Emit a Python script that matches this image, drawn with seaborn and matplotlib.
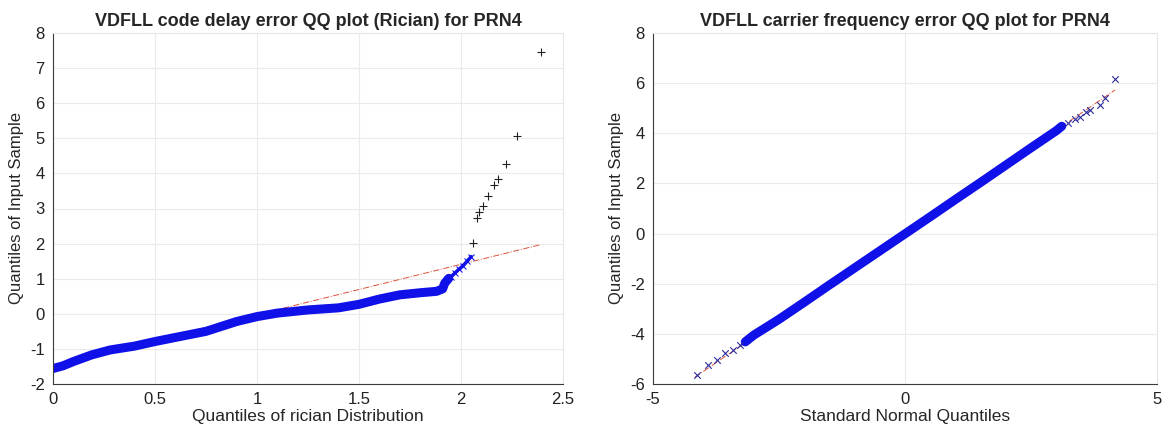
import matplotlib
matplotlib.use("Agg")
import matplotlib.pyplot as plt
import seaborn as sns

# --- values -----------------------------------------------------------------
# left panel: code delay error vs rician quantiles
code_x = [0.00, 0.05, 0.10, 0.19, 0.28, 0.40, 0.50, 0.62, 0.75, 0.90, 1.00,
          1.10, 1.25, 1.40, 1.50, 1.60, 1.70, 1.80, 1.88, 1.91, 1.92, 1.94]
code_y = [-1.56, -1.48, -1.36, -1.17, -1.03, -0.92, -0.79, -0.65, -0.50, -0.22,
          -0.08, 0.02, 0.11, 0.17, 0.27, 0.42, 0.54, 0.60, 0.64, 0.71, 0.87, 1.01]
code_tail_x = [1.95, 1.97, 1.99, 2.01, 2.03, 2.05]
code_tail_y = [1.05, 1.16, 1.27, 1.37, 1.50, 1.63]
code_out_x = [2.06, 2.08, 2.09, 2.11, 2.13, 2.16, 2.18, 2.22, 2.275, 2.39]
code_out_y = [2.02, 2.72, 2.91, 3.07, 3.36, 3.67, 3.84, 4.27, 5.07, 7.45]
code_ref_x = [0.0, 2.39]
code_ref_y = [-1.46, 1.97]

# right panel: carrier frequency error vs standard normal quantiles
carr_x = [-3.17, -3.0, -2.5, -2.0, -1.5, -1.0, -0.5, 0.0, 0.5, 1.0, 1.5,
          2.0, 2.5, 3.0, 3.11]
carr_y = [-4.32, -4.05, -3.42, -2.74, -2.05, -1.37, -0.69, -0.01, 0.67, 1.36,
          2.04, 2.73, 3.42, 4.10, 4.28]
carr_lo_x = [-4.13, -3.90, -3.74, -3.57, -3.41, -3.27]
carr_lo_y = [-5.66, -5.24, -5.04, -4.78, -4.64, -4.45]
carr_hi_x = [3.24, 3.37, 3.47, 3.60, 3.67, 3.86, 3.97, 4.17]
carr_hi_y = [4.42, 4.55, 4.65, 4.85, 4.94, 5.14, 5.41, 6.16]
carr_ref_x = [-4.17, 4.17]
carr_ref_y = [-5.73, 5.73]

# --- style ---------------------------------------------------------------------
sns.set_theme(style="white")
plt.rcParams["font.family"] = ["Liberation Sans", "DejaVu Sans"]
plt.rcParams["axes.unicode_minus"] = False   # plain hyphen like the original

BLUE = "#1010e8"
REF = "#d9533a"
GRID = "#ebebeb"
AX = "#3a3a3a"

fig = plt.figure(figsize=(11.68, 4.30), dpi=100)
ax1 = fig.add_axes([53 / 1168, 46 / 430, 510 / 1168, 351 / 430])
ax2 = fig.add_axes([653 / 1168, 46 / 430, 504 / 1168, 351 / 430])


def style_axes(ax):
    ax.grid(True, color=GRID, lw=0.8)
    ax.set_axisbelow(True)
    for side in ["left", "bottom"]:
        ax.spines[side].set_color(AX)
        ax.spines[side].set_linewidth(0.8)
    for side in ["top", "right"]:
        ax.spines[side].set_color("#e6e6e6")
        ax.spines[side].set_linewidth(0.8)
    ax.tick_params(direction="out", length=3, width=0.7, color=AX,
                   labelsize=12, labelcolor="#222222", pad=3)
    ax.tick_params(top=False, right=False)


# left panel
sns.lineplot(x=code_ref_x, y=code_ref_y, ax=ax1, color=REF, lw=0.7,
             linestyle="-.", zorder=1)
sns.lineplot(x=code_x, y=code_y, ax=ax1, color=BLUE, lw=6.5, sort=False,
             zorder=2)
sns.lineplot(x=code_tail_x, y=code_tail_y, ax=ax1, color=BLUE, lw=2.5,
             marker="x", markersize=5, markeredgecolor=BLUE, sort=False,
             zorder=2)
sns.scatterplot(x=code_out_x, y=code_out_y, ax=ax1, marker="+", s=40,
                color="#222222", linewidth=0.8, zorder=3)
ax1.set_xlim(0, 2.5)
ax1.set_ylim(-2, 8)
ax1.set_xticks([0, 0.5, 1, 1.5, 2, 2.5])
ax1.set_xticklabels(["0", "0.5", "1", "1.5", "2", "2.5"])
ax1.set_yticks(range(-2, 9))
ax1.set_title("VDFLL code delay error QQ plot (Rician) for PRN4",
              fontsize=13, fontweight="bold", pad=5)
ax1.set_xlabel("Quantiles of rician Distribution", fontsize=12.5, labelpad=1)
ax1.set_ylabel("Quantiles of Input Sample", fontsize=12, labelpad=4)
style_axes(ax1)

# right panel
sns.lineplot(x=carr_ref_x, y=carr_ref_y, ax=ax2, color=REF, lw=0.7,
             linestyle="-.", zorder=1)
sns.lineplot(x=carr_x, y=carr_y, ax=ax2, color=BLUE, lw=6.5, sort=False,
             zorder=2)
sns.scatterplot(x=carr_lo_x, y=carr_lo_y, ax=ax2, marker="x", s=22,
                color="#2a2a9a", linewidth=0.8, zorder=3)
sns.scatterplot(x=carr_hi_x, y=carr_hi_y, ax=ax2, marker="x", s=22,
                color="#2a2a9a", linewidth=0.8, zorder=3)
ax2.set_xlim(-5, 5)
ax2.set_ylim(-6, 8)
ax2.set_xticks([-5, 0, 5])
ax2.set_yticks(range(-6, 9, 2))
ax2.set_title("VDFLL carrier frequency error QQ plot for PRN4",
              fontsize=13, fontweight="bold", pad=5)
ax2.set_xlabel("Standard Normal Quantiles", fontsize=12.5, labelpad=1)
ax2.set_ylabel("Quantiles of Input Sample", fontsize=12, labelpad=4)
style_axes(ax2)

fig.savefig("out.png", dpi=100)
